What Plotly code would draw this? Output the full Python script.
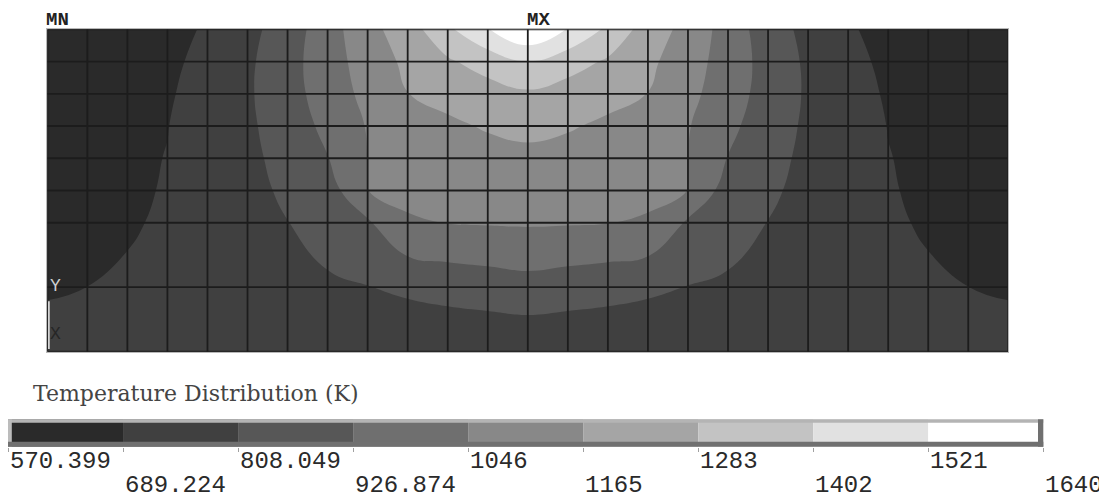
import plotly.graph_objects as go

# ---------------- data ----------------
# mesh node coordinates (element units); y listed top -> bottom
x_nodes = [0, 1, 2, 3, 4, 5, 6, 7, 8, 9, 10, 11, 12, 13, 14, 15, 16, 17, 18, 19, 20, 21, 22, 23, 24]
y_nodes = [8.0, 7.2, 6.4, 5.6, 4.8, 4.0, 3.2, 1.6, 0.0]

# nodal temperatures (K), one row per y node (top -> bottom)
temp_y80 = [570.4, 600, 630, 664, 698, 774, 866, 994, 1127, 1227, 1380, 1515, 1640, 1515, 1380, 1227, 1127, 994, 866, 774, 698, 664, 630, 600, 571]
temp_y72 = [585, 612, 640, 665, 722, 788, 884, 993, 1098, 1190, 1268, 1335, 1400, 1335, 1268, 1190, 1098, 993, 884, 788, 722, 665, 640, 612, 585]
temp_y64 = [605, 630, 655, 678, 732, 793, 881, 981, 1078, 1163, 1199, 1232, 1266, 1232, 1199, 1163, 1078, 981, 881, 793, 732, 678, 655, 630, 605]
temp_y56 = [622, 643, 665, 687, 738, 789, 863, 956, 1053, 1100, 1145, 1175, 1191, 1175, 1145, 1100, 1053, 956, 863, 789, 738, 687, 665, 643, 622]
temp_y48 = [635, 652, 670, 692, 738, 783, 844, 923, 1047, 1080, 1105, 1125, 1139, 1125, 1105, 1080, 1047, 923, 844, 783, 738, 692, 670, 652, 635]
temp_y40 = [648, 660, 675, 695, 740, 779, 825, 870, 1045, 1075, 1083, 1090, 1097, 1090, 1083, 1075, 1045, 870, 825, 779, 740, 695, 675, 660, 648]
temp_y32 = [675, 679, 681, 700, 740, 773, 806, 858, 911, 1032, 1048, 1054, 1057, 1054, 1048, 1032, 911, 858, 806, 773, 740, 700, 681, 679, 675]
temp_y16 = [687, 689.3, 700, 718, 740, 761, 776, 790, 805, 830, 850, 866, 883, 866, 850, 830, 805, 790, 776, 761, 740, 718, 700, 689.3, 687]
temp_y00 = [698, 699, 700, 701, 702, 703, 704, 705, 706, 707, 708, 709, 709, 709, 708, 707, 706, 705, 704, 703, 702, 701, 700, 699, 698]

# contour levels and legend labels
levels = [570.399, 689.224, 808.049, 926.874, 1045.699, 1164.524, 1283.349, 1402.174, 1520.999, 1639.824]
level_labels = ["570.399", "689.224", "808.049", "926.874", "1046", "1165", "1283", "1402", "1521", "1640"]
band_colors = ["#2a2a2a", "#404040", "#575757", "#6f6f6f", "#888888", "#a5a5a5", "#c3c3c3", "#e1e1e1", "#ffffff"]

title_text = "Temperature Distribution (K)"
min_label, max_label = "MN", "MX"
min_node, max_node = 0, 12

# ---------------- figure ----------------
OFF = 8                      # body margin of the html page
W, H = 1107, 498
z_rows = [temp_y80, temp_y72, temp_y64, temp_y56, temp_y48, temp_y40, temp_y32, temp_y16, temp_y00]
step = levels[1] - levels[0]

cscale = [[0.0, band_colors[0]]]
for k, c in enumerate(band_colors):
    cscale.append([(k + 1) / 10, c])
cscale.append([1.0, band_colors[-1]])

fig = go.Figure()
fig.add_trace(go.Contour(
    x=x_nodes, y=y_nodes[::-1], z=z_rows[::-1],
    contours=dict(start=levels[0], end=levels[-1], size=step, coloring="fill", showlines=False),
    colorscale=cscale, showscale=False,
    line=dict(width=0, smoothing=1.3), hoverinfo="skip",
))

# element mesh lines
mx, my = [], []
for xv in x_nodes:
    mx += [xv, xv, None]
    my += [min(y_nodes), max(y_nodes), None]
for yv in y_nodes:
    mx += [min(x_nodes), max(x_nodes), None]
    my += [yv, yv, None]
fig.add_trace(go.Scatter(x=mx, y=my, mode="lines", line=dict(color="#1c1c1c", width=1.8),
                         hoverinfo="skip", showlegend=False, cliponaxis=False))

# legend bar
fig.add_trace(go.Bar(
    x=[levels[k] + step / 2 for k in range(len(band_colors))],
    y=[1] * len(band_colors), width=[step] * len(band_colors),
    marker=dict(color=band_colors, line=dict(width=0)),
    xaxis="x2", yaxis="y2", hoverinfo="skip", showlegend=False,
))


def px(v):
    return max(0.0, v - OFF)


px_l, px_r, px_t, px_b = px(47.3), px(1008.3), px(29.3), px(351.7)
cb_l, cb_r, cb_t, cb_b = px(7.3), px(1043.3), px(419.3), px(446.7)

hide = dict(showgrid=False, zeroline=False, showticklabels=False, ticks="")
fig.update_layout(
    width=W, height=H, margin=dict(l=0, r=0, t=0, b=0),
    paper_bgcolor="white", plot_bgcolor="white", showlegend=False,
    xaxis=dict(domain=[px_l / W, px_r / W], range=[min(x_nodes), max(x_nodes)],
               showline=True, mirror=True, linecolor="#b8b8b8", linewidth=1, **hide),
    yaxis=dict(domain=[1 - px_b / H, 1 - px_t / H], range=[min(y_nodes), max(y_nodes)],
               showline=True, mirror=True, linecolor="#b8b8b8", linewidth=1, **hide),
    xaxis2=dict(domain=[cb_l / W, cb_r / W], range=[levels[0], levels[-1]], anchor="y2",
                showgrid=False, zeroline=False, showticklabels=False, showline=False,
                tickvals=levels, ticks="outside", ticklen=4, tickwidth=1, tickcolor="#a0a0a0"),
    yaxis2=dict(domain=[1 - cb_b / H, 1 - cb_t / H], range=[0, 1], anchor="x2", showline=False, **hide),
)

# bevel frame of the legend bar
bw, bh = cb_r - cb_l, cb_b - cb_t
frame = [
    dict(x0=0, x1=1, y0=1 - 3.4 / bh, y1=1, color="#b4b4b4"),
    dict(x0=0, x1=3.8 / bw, y0=0, y1=1, color="#bcbcbc"),
    dict(x0=0, x1=1, y0=0, y1=5.0 / bh, color="#707070"),
    dict(x0=1 - 5.3 / bw, x1=1, y0=0, y1=1, color="#707070"),
]
for f in frame:
    fig.add_shape(type="rect", xref="x2 domain", yref="y2 domain", x0=f["x0"], x1=f["x1"],
                  y0=f["y0"], y1=f["y1"], fillcolor=f["color"], line=dict(width=0), layer="above")

# triad line
fig.add_shape(type="line", xref="x", yref="y", x0=0.04, x1=0.04, y0=0.07, y1=1.25,
              line=dict(color="#f0f0f0", width=1.5), layer="above")

ann = []
mono = "Liberation Mono"
for k, (lv, lab) in enumerate(zip(levels, level_labels)):
    ymid = px(461.5) if k % 2 == 0 else px(485.0)
    ann.append(dict(x=lv, xref="x2", y=1 - ymid / H, yref="paper", text=lab, showarrow=False,
                    xanchor="left", yanchor="middle", font=dict(family=mono, size=24, color="#2a2a2a")))
ann.append(dict(x=px(31) / W, xref="paper", y=1 - px(393.4) / H, yref="paper", text=title_text,
                showarrow=False, xanchor="left", yanchor="middle",
                font=dict(family="DejaVu Serif", size=22, color="#444444")))
for lab, node in [(min_label, min_node), (max_label, max_node)]:
    ann.append(dict(x=x_nodes[node], xref="x", y=max(y_nodes), yref="y", text="<b>" + lab + "</b>",
                    showarrow=False, xanchor="left", yanchor="bottom", xshift=-2, yshift=-3, borderpad=0,
                    font=dict(family=mono, size=19, color="#222222")))
ann.append(dict(x=0.07, xref="x", y=1.63, yref="y", text="Y", showarrow=False, xanchor="left",
                yanchor="middle", xshift=-2, font=dict(family=mono, size=18, color="#cfcfcf")))
ann.append(dict(x=0.07, xref="x", y=0.43, yref="y", text="X", showarrow=False, xanchor="left",
                yanchor="middle", xshift=-2, font=dict(family=mono, size=18, color="#262626")))
fig.update_layout(annotations=ann)

fig.write_html("out.html")
